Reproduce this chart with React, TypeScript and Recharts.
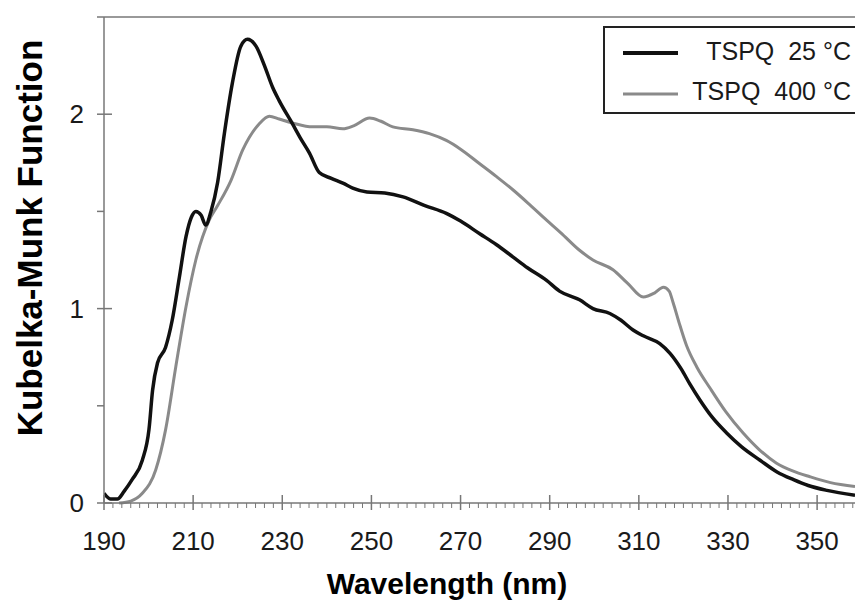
import { LineChart, Line, XAxis, YAxis, ReferenceLine, Legend } from 'recharts';

// wavelength (nm) / Kubelka-Munk readings
const wl25 = [
  190, 191.5, 193, 194.5, 196.3, 198.6, 200.1, 200.9, 202, 203.8, 205.3, 206.9, 208.4, 209.6,
  210.6, 211.8, 212.8, 214, 215.5, 217, 218.8, 220.7, 222.2, 224.1, 226, 227.8, 229.3, 232.3,
  234, 236.1, 238.3, 241, 243.6, 245.8, 249, 253, 257.1, 262, 266.8, 270, 274.3, 278, 281.8,
  285, 289.3, 292.2, 296.7, 299.7, 303.5, 306, 308.7, 311, 314.7, 317, 319.5, 321.5, 323.7,
  326.5, 329.7, 333, 337.2, 341, 344.7, 348, 352.2, 358.5,
];
const km25 = [
  0.05, 0.02, 0.02, 0.06, 0.12, 0.22, 0.38, 0.58, 0.72, 0.8, 0.94, 1.16, 1.37, 1.47,
  1.5, 1.48, 1.43, 1.5, 1.65, 1.9, 2.16, 2.35, 2.385, 2.35, 2.25, 2.14, 2.07, 1.95,
  1.88, 1.8, 1.7, 1.67, 1.645, 1.62, 1.6, 1.595, 1.575, 1.53, 1.49, 1.45, 1.385, 1.33, 1.265,
  1.21, 1.145, 1.09, 1.045, 1.0, 0.975, 0.94, 0.89, 0.86, 0.82, 0.77, 0.69, 0.61, 0.53,
  0.44, 0.36, 0.29, 0.22, 0.16, 0.12, 0.09, 0.065, 0.04,
];

const wl400 = [
  193.4, 196, 198.6, 201.6, 203.8, 206.1, 208.4, 210.6, 213.6, 215.5, 218.5, 221.1, 224.8,
  227.1, 229.3, 232.3, 236.8, 240, 243.6, 246, 249.6, 252, 254.8, 259.3, 263, 266.8, 270,
  274.3, 278, 281.8, 285.5, 289.3, 292.5, 296.7, 299.7, 304.2, 307.5, 311, 313.5, 315.5,
  316.8, 317.7, 319, 320.7, 323, 326, 329.5, 333.4, 337, 340.9, 344.5, 348.4, 353, 358.5,
];
const km400 = [
  0, 0.01, 0.05, 0.17, 0.375, 0.7, 1.01, 1.25, 1.455, 1.53, 1.66, 1.815, 1.95,
  1.99, 1.975, 1.955, 1.935, 1.935, 1.925, 1.94, 1.98, 1.965, 1.935, 1.92, 1.9, 1.865, 1.82,
  1.745, 1.68, 1.61, 1.535, 1.455, 1.39, 1.3, 1.25, 1.2, 1.13, 1.06, 1.08, 1.11,
  1.09, 1.03, 0.93, 0.81, 0.7, 0.59, 0.47, 0.36, 0.275, 0.205, 0.165, 0.135, 0.105, 0.085,
];

const seriesNames = ['TSPQ  25 °C', 'TSPQ  400 °C'];
const xMajor = [190, 210, 230, 250, 270, 290, 310, 330, 350];
const xTicks = Array.from({ length: 85 }, (_, i) => 190 + i * 2);
const yTicks = [0, 0.5, 1, 1.5, 2, 2.5];

const data25 = wl25.map((w, i) => ({ wl: w, km: km25[i] }));
const data400 = wl400.map((w, i) => ({ wl: w, km: km400[i] }));

const AXIS = '#777';
const FONT = '"Liberation Sans", Arial, sans-serif';
const BLACK = '#111';
const GREY = '#8a8a8a';

const XTick = ({ x, y, payload }: any) => {
  const v = payload.value;
  const major = xMajor.includes(v);
  return (
    <g>
      {major ? (
        <line x1={x} x2={x} y1={y - 8} y2={y + 7} stroke={AXIS} strokeWidth={1.5} />
      ) : (
        <line x1={x} x2={x} y1={y} y2={y + 5} stroke={AXIS} strokeWidth={1} />
      )}
      {major && (
        <text x={x} y={y + 47} textAnchor="middle" fontSize={26} fill="#1a1a1a" fontFamily={FONT}>
          {v}
        </text>
      )}
    </g>
  );
};

const YTick = ({ x, y, payload }: any) => {
  const v = payload.value;
  const major = Number.isInteger(v);
  return (
    <g>
      <line x1={x - 7} x2={major ? x + 8 : x} y1={y} y2={y} stroke={AXIS} strokeWidth={1.5} />
      {major && (
        <text x={x - 20} y={y} textAnchor="end" dominantBaseline="central" fontSize={26} fill="#1a1a1a" fontFamily={FONT}>
          {v}
        </text>
      )}
    </g>
  );
};

const LegendBox = () => (
  <svg width={870} height={130} style={{ display: 'block' }}>
    <rect x={604} y={27} width={262} height={86} fill="#fff" stroke="#222" strokeWidth={2} />
    <line x1={623} x2={678} y1={53} y2={53} stroke={BLACK} strokeWidth={4} />
    <text x={851} y={51} textAnchor="end" dominantBaseline="central" fontSize={25} fill="#1a1a1a"
      fontFamily={FONT} style={{ whiteSpace: 'pre' }}>
      {seriesNames[0]}
    </text>
    <line x1={623} x2={678} y1={94} y2={94} stroke={GREY} strokeWidth={3} />
    <text x={851} y={91} textAnchor="end" dominantBaseline="central" fontSize={25} fill="#1a1a1a"
      fontFamily={FONT} style={{ whiteSpace: 'pre' }}>
      {seriesNames[1]}
    </text>
  </svg>
);

export default function App() {
  return (
    <div style={{ position: 'absolute', left: 0, top: 0, width: 855, height: 609, overflow: 'hidden', background: '#fff' }}>
      <LineChart width={870} height={609} margin={{ top: 17, right: 15, left: 0, bottom: 0 }}>
        <XAxis
          dataKey="wl"
          type="number"
          domain={[190, 358.5]}
          ticks={xTicks}
          interval={0}
          allowDataOverflow
          height={106}
          stroke={AXIS}
          strokeWidth={1.5}
          tickLine={false}
          tickSize={0}
          tickMargin={0}
          tick={<XTick />}
          label={{
            content: () => (
              <text x={447} y={594} textAnchor="middle" fontSize={30} fontWeight="bold" fill="#000" fontFamily={FONT}>
                Wavelength (nm)
              </text>
            ),
          }}
        />
        <YAxis
          type="number"
          domain={[0, 2.5]}
          ticks={yTicks}
          interval={0}
          width={104}
          stroke={AXIS}
          strokeWidth={1.5}
          tickLine={false}
          tickSize={0}
          tickMargin={0}
          tick={<YTick />}
          label={{
            content: () => (
              <text x={42} y={238} transform="rotate(-90, 42, 238)" textAnchor="middle" fontSize={35}
                fontWeight="bold" fill="#000" fontFamily={FONT}>
                Kubelka-Munk Function
              </text>
            ),
          }}
        />
        <ReferenceLine y={2.5} stroke={AXIS} strokeWidth={1.5} />
        <Legend
          layout="horizontal"
          verticalAlign="middle"
          align="center"
          wrapperStyle={{ top: 0, left: 0, width: 870, height: 130 }}
          content={() => <LegendBox />}
        />
        <Line data={data400} dataKey="km" name={seriesNames[1]} type="monotone" stroke={GREY}
          strokeWidth={3} dot={false} isAnimationActive={false} />
        <Line data={data25} dataKey="km" name={seriesNames[0]} type="monotone" stroke={BLACK}
          strokeWidth={3.5} dot={false} isAnimationActive={false} />
      </LineChart>
    </div>
  );
}
